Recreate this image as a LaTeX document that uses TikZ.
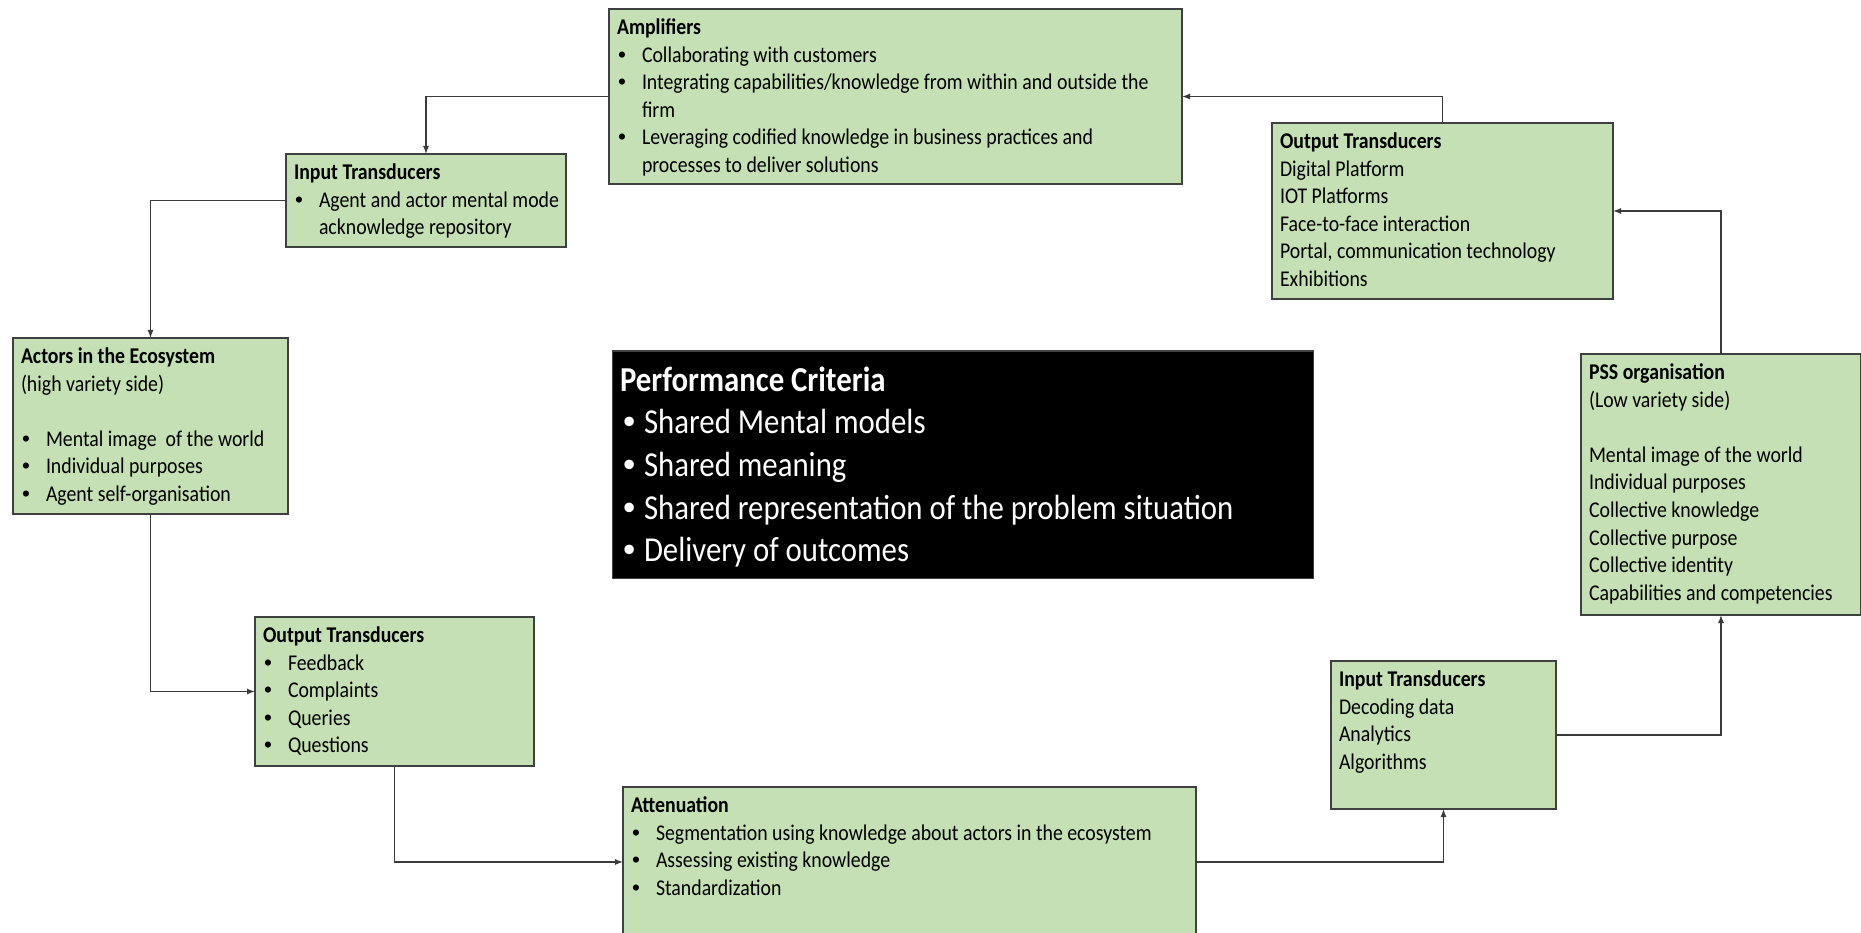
\documentclass[tikz,border=0pt]{standalone}
\usepackage{fontspec}
\setmainfont[FakeStretch=0.88]{Carlito}
\newfontfamily\bulfont{Liberation Sans}
\usetikzlibrary{arrows.meta}
\definecolor{boxfill}{HTML}{C5E0B4}
\definecolor{boxline}{HTML}{404040}
\definecolor{wirecol}{HTML}{3A3A3A}
% bulleted line with hanging indent for wrapped text (\brk keeps the indent)
\newcommand\brk{\hfil\break}
\newcommand\bitem[1]{\par\hangindent=25pt\hangafter=1\noindent\makebox[25pt][l]{\hspace{1pt}{\bulfont\textbullet}}#1}
\newcommand\pitem[1]{\par\hangindent=24pt\hangafter=1\noindent\makebox[24pt][l]{\hspace{3pt}{\bulfont\textbullet}}#1}
\newcommand\plain[1]{\par\noindent#1}
\newcommand\gap{\par\noindent\mbox{}}
\tikzset{
  panel/.style={draw=boxline, fill=boxfill, line width=1.6pt, anchor=north west,
                inner sep=0pt, outer sep=0pt},
  darkpanel/.style={draw=boxline, fill=black, line width=1pt, anchor=north west,
                inner sep=0pt, outer sep=0pt},
  label/.style={anchor=base west, inner sep=0pt, outer sep=0pt, text=black,
                font=\fontsize{22.5}{27.6}\selectfont},
  biglabel/.style={anchor=base west, inner sep=0pt, outer sep=0pt, text=white,
                font=\fontsize{35}{42.7}\selectfont},
  wire/.style={draw=wirecol, line width=1.3pt, -{Latex[length=8pt,width=6pt]}},
}
\begin{document}
\begin{tikzpicture}[x=1pt,y=-1pt]
\useasboundingbox (0,0) rectangle (1861,933);
\clip (0,0) rectangle (1861,933);
\fill[white] (0,0) rectangle (1861,933);

% boxes
\node[panel, minimum width=573pt, minimum height=175pt] (amp) at (609,9) {};
\node[panel, minimum width=280pt, minimum height=93pt] (inA) at (286,154) {};
\node[panel, minimum width=275pt, minimum height=176pt] (actors) at (13,338) {};
\node[panel, minimum width=279pt, minimum height=149pt] (outA) at (255,617) {};
\node[panel, minimum width=573pt, minimum height=150pt] (att) at (623,787) {};
\node[panel, minimum width=225pt, minimum height=148pt] (inB) at (1331,661) {};
\node[panel, minimum width=280pt, minimum height=261pt] (pss) at (1581,354) {};
\node[panel, minimum width=341pt, minimum height=176pt] (outB) at (1272,123) {};
\node[darkpanel, minimum width=701pt, minimum height=227pt] (perf) at (612,351) {};

% box texts
\node[label] (amp-t) at ([xshift=8pt,yshift=-25.5pt]amp.north west) {\parbox[t]{560pt}{\raggedright
  \textbf{Amplifiers}
  \bitem{Collaborating with customers}
  \bitem{Integrating capabilities/knowledge from within and outside the\brk firm}
  \bitem{Leveraging codified knowledge in business practices and\brk processes to deliver solutions}}};

\node[label] (inA-t) at ([xshift=8pt,yshift=-25.5pt]inA.north west) {\parbox[t]{270pt}{\raggedright
  \textbf{Input Transducers}
  \bitem{Agent and actor mental mode\brk acknowledge repository}}};

\node[label] (actors-t) at ([xshift=8pt,yshift=-25.5pt]actors.north west) {\parbox[t]{265pt}{\raggedright
  \textbf{Actors in the Ecosystem}
  \plain{(high variety side)}
  \gap
  \bitem{Mental image\ \ of the world}
  \bitem{Individual purposes}
  \bitem{Agent self-organisation}}};

\node[label] (outA-t) at ([xshift=8pt,yshift=-25.5pt]outA.north west) {\parbox[t]{265pt}{\raggedright
  \textbf{Output Transducers}
  \bitem{Feedback}
  \bitem{Complaints}
  \bitem{Queries}
  \bitem{Questions}}};

\node[label] (att-t) at ([xshift=8pt,yshift=-25.5pt]att.north west) {\parbox[t]{560pt}{\raggedright
  \textbf{Attenuation}
  \bitem{Segmentation using knowledge about actors in the ecosystem}
  \bitem{Assessing existing knowledge}
  \bitem{Standardization}}};

\node[label] (inB-t) at ([xshift=8pt,yshift=-25.5pt]inB.north west) {\parbox[t]{215pt}{\raggedright
  \textbf{Input Transducers}
  \plain{Decoding data}
  \plain{Analytics}
  \plain{Algorithms}}};

\node[label] (pss-t) at ([xshift=8pt,yshift=-25.5pt]pss.north west) {\parbox[t]{270pt}{\raggedright
  \textbf{PSS organisation}
  \plain{(Low variety side)}
  \gap
  \plain{Mental image of the world}
  \plain{Individual purposes}
  \plain{Collective knowledge}
  \plain{Collective purpose}
  \plain{Collective identity}
  \plain{Capabilities and competencies}}};

\node[label] (outB-t) at ([xshift=8pt,yshift=-25.5pt]outB.north west) {\parbox[t]{330pt}{\raggedright
  \textbf{Output Transducers}
  \plain{Digital Platform}
  \plain{IOT Platforms}
  \plain{Face-to-face interaction}
  \plain{Portal, communication technology}
  \plain{Exhibitions}}};

\node[biglabel] (perf-t) at ([xshift=8pt,yshift=-40pt]perf.north west) {\parbox[t]{690pt}{\raggedright
  \textbf{Performance Criteria}
  \pitem{Shared Mental models}
  \pitem{Shared meaning}
  \pitem{Shared representation of the problem situation}
  \pitem{Delivery of outcomes}}};

% feedback loop connectors
\draw[wire] (amp.west) -| (inA.north);
\draw[wire] (inA.west) -| (actors.north);
\draw[wire] (actors.south) |- (outA.west);
\draw[wire] (outA.south) |- (att.west);
\draw[wire] (att.east) -| (inB.south);
\draw[wire] (inB.east) -| (pss.south);
\draw[wire] (pss.north) |- (outB.east);
\draw[wire] (outB.north) |- (amp.east);
\end{tikzpicture}
\end{document}
